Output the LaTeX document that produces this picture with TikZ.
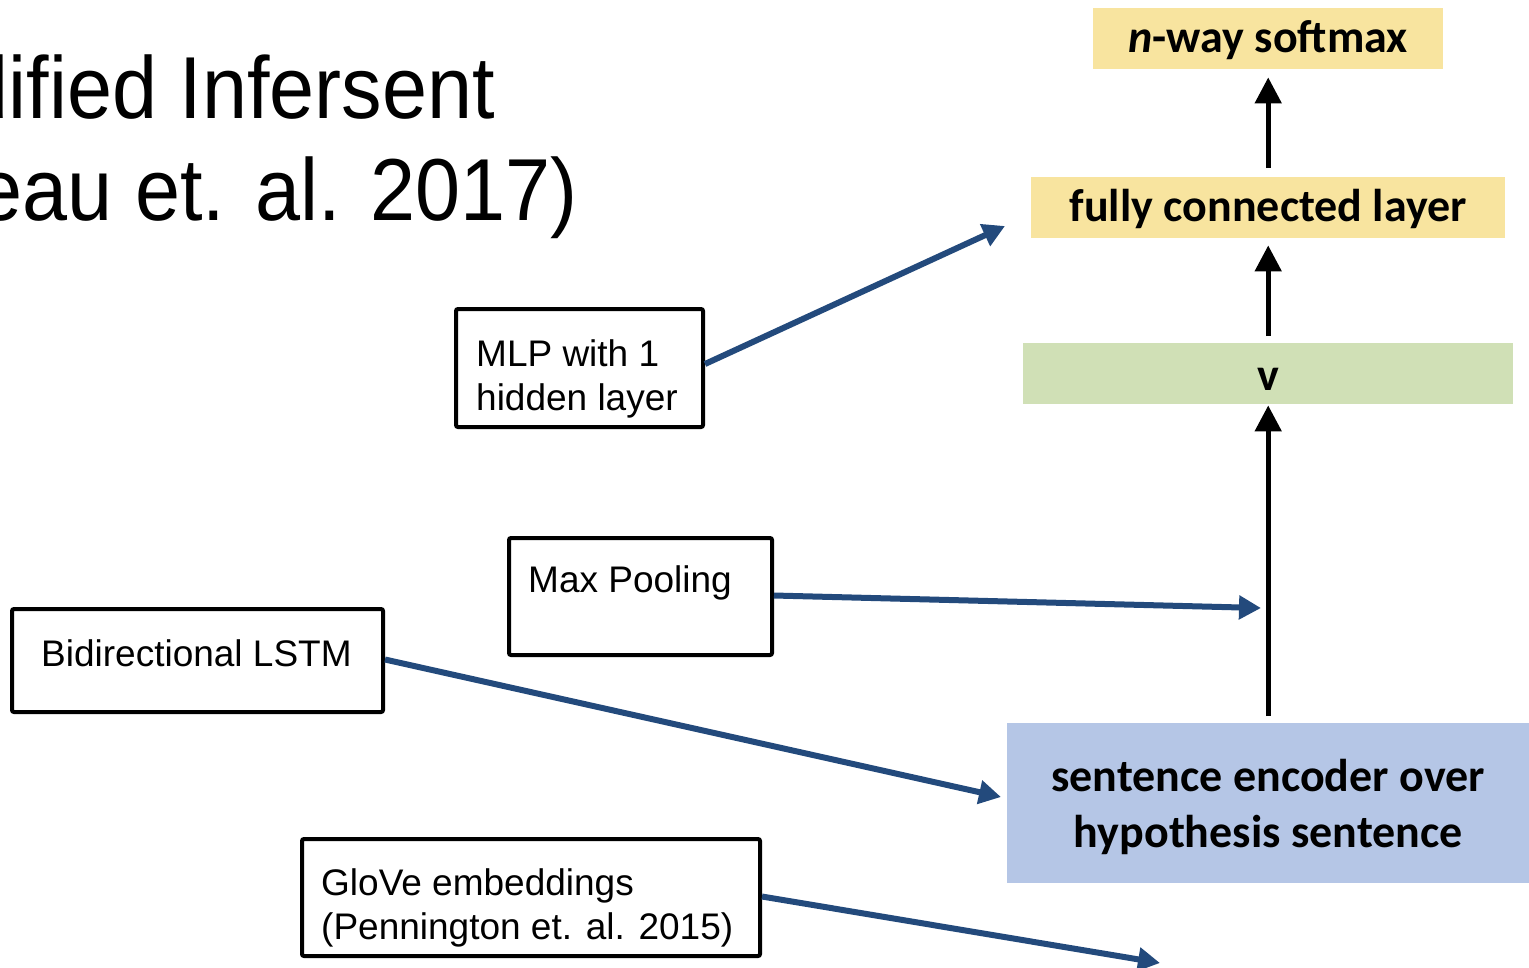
\documentclass[tikz,border=0pt]{standalone}
\usepackage{fontspec}
\setmainfont{Liberation Sans}
\newfontfamily\layerfont{Carlito}
\newfontfamily\headfont{Liberation Sans}[FakeStretch=0.92]
\usetikzlibrary{arrows.meta,calc}

\definecolor{linkblue}{HTML}{234A7C}
\definecolor{layeryellow}{HTML}{F8E49F}
\definecolor{vecgreen}{HTML}{D0E0B6}
\definecolor{encblue}{HTML}{B5C6E6}

% lower a piece of text without changing the size TikZ sees
\newcommand{\lowertext}[2]{\raisebox{-#1}[\height][\depth]{#2}}

\tikzset{
  layer/.style={inner sep=0pt, anchor=north west, align=center,
    font=\layerfont\bfseries\fontsize{46}{56}\selectfont},
  outlinebox/.style={draw=black, line width=4pt, rounded corners=2pt,
    inner sep=0pt, outer sep=0pt, anchor=north west},
  boxtext/.style={inner sep=0pt, anchor=north west, align=left,
    font=\fontsize{37}{44}\selectfont},
  titletext/.style={inner sep=0pt, anchor=base east,
    font=\headfont\fontsize{88}{100}\selectfont},
  uparrow/.style={draw=black, line width=5pt,
    -{Triangle[length=26pt,width=26pt]}},
  linkarrow/.style={draw=linkblue, line width=6pt,
    -{Triangle[length=22pt,width=23pt]}},
}

\begin{document}
\begin{tikzpicture}[x=1pt,y=-1pt]
\useasboundingbox (0,0) rectangle (1529,967);
\clip (0,0) rectangle (1529,967);

% heading, cut off by the left edge
\node[titletext] (title1) at (495,118) {dified Infersent};
\node[titletext] (title2) at (578,220) {eau et. al. 2017)};

% layer stack on the right
\node[layer, fill=layeryellow, minimum width=350pt, minimum height=61pt]
  (softmax) at (1093,8) {\lowertext{1pt}{{\itshape n}-way softmax}};
\node[layer, fill=layeryellow, minimum width=474pt, minimum height=61pt]
  (fc) at (1031,177) {\lowertext{1pt}{fully connected layer}};
\node[layer, fill=vecgreen, minimum width=490pt, minimum height=61pt]
  (vec) at (1023,343) {\lowertext{6pt}{v}};
\node[layer, fill=encblue, minimum width=530pt, minimum height=160pt]
  (enc) at (1007,723)
  {\lowertext{4pt}{sentence encoder over}\hspace*{8pt}\\\lowertext{4pt}{hypothesis sentence}\hspace*{8pt}};

% flow between the layers
\draw[uparrow] ($(fc.north)+(0,-9)$) -- ($(softmax.south)+(0,8)$);
\draw[uparrow] ($(vec.north)+(0,-7)$) -- ($(fc.south)+(0,7)$);
\draw[uparrow] ($(enc.north -| vec.south)+(0,-7)$) -- ($(vec.south)+(0,1)$);

% annotation boxes
\node[outlinebox, minimum width=247pt, minimum height=118pt] (mlp) at (456,309) {};
\node[boxtext] (mlptext) at (476,339) {MLP with 1\\hidden layer};

\node[outlinebox, minimum width=263pt, minimum height=117pt] (pool) at (509,538) {};
\node[boxtext] (pooltext) at (528,565) {Max Pooling};

\node[outlinebox, minimum width=371pt, minimum height=103pt] (lstm) at (12,609) {};
\node[boxtext] (lstmtext) at (41,639) {Bidirectional LSTM};

\node[outlinebox, minimum width=458pt, minimum height=117pt] (glove) at (302,839) {};
\node[boxtext] (glovetext) at (321,868) {GloVe embeddings\\(Pennington et. al. 2015)};

% pointer targets
\coordinate (mlptip) at (1005,226);
\coordinate (pooltip) at (1261,608);
\coordinate (lstmtip) at (1001,797);
\coordinate (glovetip) at (1160,963);

\draw[linkarrow] ($(mlp.east)+(2,-4)$) -- (mlptip);
\draw[linkarrow] ($(pool.east)+(2,-1)$) -- (pooltip);
\draw[linkarrow] ($(lstm.east)+(2,-1)$) -- (lstmtip);
\draw[linkarrow] ($(glove.east)+(2,-1)$) -- (glovetip);
\end{tikzpicture}
\end{document}
